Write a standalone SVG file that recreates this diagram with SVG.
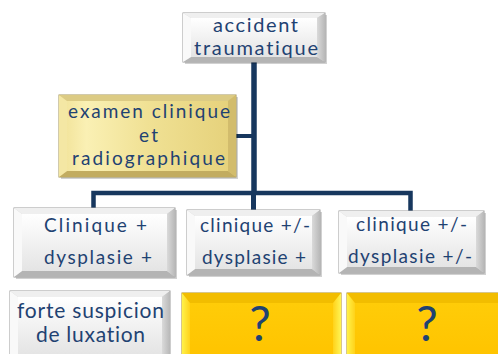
<svg xmlns="http://www.w3.org/2000/svg" width="498" height="354" viewBox="0 0 498 354">
<defs>
<linearGradient id="gW" x1="0" y1="0" x2="0" y2="1"><stop offset="0" stop-color="#FFFFFF"/><stop offset="1" stop-color="#E4E4E4"/></linearGradient>
<linearGradient id="gWr" x1="0" y1="0" x2="1" y2="0"><stop offset="0" stop-color="#DADADA"/><stop offset="1" stop-color="#B8B8B8"/></linearGradient>
<linearGradient id="gG" x1="0" y1="0" x2="1" y2="0"><stop offset="0" stop-color="#F3E59E"/><stop offset="0.12" stop-color="#FAF0B4"/><stop offset="0.5" stop-color="#F0E194"/><stop offset="1" stop-color="#E6D27C"/></linearGradient>
<linearGradient id="gY" x1="0" y1="0" x2="0" y2="1"><stop offset="0" stop-color="#FFCC08"/><stop offset="1" stop-color="#FFC400"/></linearGradient>
<linearGradient id="gYl" x1="0" y1="0" x2="1" y2="0"><stop offset="0" stop-color="#FFF24A"/><stop offset="1" stop-color="#FFD21A"/></linearGradient>
<linearGradient id="gYr" x1="0" y1="0" x2="1" y2="0"><stop offset="0" stop-color="#FFD21A"/><stop offset="1" stop-color="#FFF555"/></linearGradient>
</defs>
<style>
.sh{fill:#000;opacity:0.18}
.w .o{fill:#D0D0D0;stroke:#9C9C9C;stroke-width:1}
.w .t{fill:#EFEFEF}.w .l{fill:#F9F9F9}.w .r{fill:url(#gWr)}.w .b{fill:#B4B4B4}.w .i{fill:url(#gW)}
.g .o{fill:#D8C57A;stroke:#A3955B;stroke-width:1}
.g .t{fill:#DCCB84}.g .l{fill:#F4E7A4}.g .r{fill:#D2BC6C}.g .b{fill:#C2AC60}.g .i{fill:url(#gG)}
.y .o{fill:#F5C000;stroke:#B08E18;stroke-width:1}
.y .t{fill:#F2BD00}.y .l{fill:url(#gYl)}.y .r{fill:url(#gYr)}.y .b{fill:#E3AA00}.y .i{fill:url(#gY)}
text{font-family:Lato,"Open Sans","Liberation Sans",sans-serif;fill:#1F4272;text-anchor:middle;font-variant-ligatures:none}
.c{fill:none;stroke:#17375E;stroke-linecap:butt;stroke-linejoin:miter}
</style>

<g id="connectors">
<path class="c" d="M254,62 V193" stroke-width="5.5"/>
<path class="c" d="M236,136 H254" stroke-width="4"/>
<path class="c" d="M93.5,209 V193 H410.5 V211" stroke-width="4.5"/>
<path class="c" d="M253.5,193 V210" stroke-width="5"/>
</g>

<g id="n-accident" class="w">
<rect class="sh" x="185" y="15" width="142" height="49"/>
<rect class="o" x="183" y="13" width="142" height="49"/>
<polygon class="t" points="183,13 325,13 317,18 191,18"/>
<polygon class="b" points="183,62 325,62 317,57 191,57"/>
<polygon class="l" points="183,13 191,18 191,57 183,62"/>
<polygon class="r" points="325,13 317,18 317,57 325,62"/>
<rect class="i" x="191" y="18" width="126" height="39"/>
<text x="255.5" y="32" font-size="20" textLength="85" lengthAdjust="spacing">accident</text>
<text x="256" y="55" font-size="20" textLength="124" lengthAdjust="spacing">traumatique</text>
</g>

<g id="n-examen" class="g">
<rect class="sh" x="61" y="97" width="177" height="82"/>
<rect class="o" x="59" y="95" width="177" height="82"/>
<polygon class="t" points="59,95 236,95 228,101 67,101"/>
<polygon class="b" points="59,177 236,177 228,171 67,171"/>
<polygon class="l" points="59,95 67,101 67,171 59,177"/>
<polygon class="r" points="236,95 228,101 228,171 236,177"/>
<rect class="i" x="67" y="101" width="161" height="70"/>
<text x="149" y="118" font-size="19" textLength="162" lengthAdjust="spacing">examen clinique</text>
<text x="148.5" y="142" font-size="19" textLength="19" lengthAdjust="spacing">et</text>
<text x="148.5" y="165" font-size="19" textLength="153" lengthAdjust="spacing">radiographique</text>
</g>

<g id="n-c1" class="w">
<rect class="sh" x="16" y="210" width="161" height="69"/>
<rect class="o" x="14" y="208" width="161" height="69"/>
<polygon class="t" points="14,208 175,208 167,214 22,214"/>
<polygon class="b" points="14,277 175,277 167,271 22,271"/>
<polygon class="l" points="14,208 22,214 22,271 14,277"/>
<polygon class="r" points="175,208 167,214 167,271 175,277"/>
<rect class="i" x="22" y="214" width="145" height="57"/>
<text x="95.5" y="232" font-size="19" textLength="103" lengthAdjust="spacing">Clinique  +</text>
<text x="98" y="264" font-size="19" textLength="108" lengthAdjust="spacing">dysplasie +</text>
</g>

<g id="n-c2" class="w">
<rect class="sh" x="189" y="212" width="133" height="65"/>
<rect class="o" x="187" y="210" width="133" height="65"/>
<polygon class="t" points="187,210 320,210 312,216 195,216"/>
<polygon class="b" points="187,275 320,275 312,269 195,269"/>
<polygon class="l" points="187,210 195,216 195,269 187,275"/>
<polygon class="r" points="320,210 312,216 312,269 320,275"/>
<rect class="i" x="195" y="216" width="117" height="53"/>
<text x="255" y="232" font-size="19" textLength="110" lengthAdjust="spacing">clinique +/-</text>
<text x="254" y="264" font-size="19" textLength="104" lengthAdjust="spacing">dysplasie +</text>
</g>

<g id="n-c3" class="w">
<rect class="sh" x="341" y="213" width="145" height="62"/>
<rect class="o" x="339" y="211" width="145" height="62"/>
<polygon class="t" points="339,211 484,211 476,217 347,217"/>
<polygon class="b" points="339,273 484,273 476,267 347,267"/>
<polygon class="l" points="339,211 347,217 347,267 339,273"/>
<polygon class="r" points="484,211 476,217 476,267 484,273"/>
<rect class="i" x="347" y="217" width="129" height="50"/>
<text x="411.5" y="231" font-size="19" textLength="111" lengthAdjust="spacing">clinique +/-</text>
<text x="410" y="263" font-size="19" textLength="124" lengthAdjust="spacing">dysplasie +/-</text>
</g>

<g id="n-d1" class="w">
<rect class="o" x="10" y="291" width="160" height="70"/>
<polygon class="t" points="10,291 170,291 162,297 18,297"/>
<polygon class="b" points="10,361 170,361 162,355 18,355"/>
<polygon class="l" points="10,291 18,297 18,355 10,361"/>
<polygon class="r" points="170,291 162,297 162,355 170,361"/>
<rect class="i" x="18" y="297" width="144" height="58"/>
<text x="90.5" y="318" font-size="21" textLength="147" lengthAdjust="spacing">forte suspicion</text>
<text x="90.5" y="342" font-size="21" textLength="109" lengthAdjust="spacing">de luxation</text>
</g>

<g id="n-d2" class="y">
<rect class="o" x="182" y="293" width="159" height="70"/>
<polygon class="t" points="182,293 341,293 333,303 190,303"/>
<polygon class="b" points="182,363 341,363 333,355 190,355"/>
<polygon class="l" points="182,293 190,303 190,355 182,363"/>
<polygon class="r" points="341,293 333,303 333,355 341,363"/>
<rect class="i" x="190" y="303" width="143" height="52"/>
<text x="260" y="341" font-size="48">?</text>
</g>

<g id="n-d3" class="y">
<rect class="o" x="347" y="293" width="159" height="70"/>
<polygon class="t" points="347,293 506,293 498,303 355,303"/>
<polygon class="b" points="347,363 506,363 498,355 355,355"/>
<polygon class="l" points="347,293 355,303 355,355 347,363"/>
<polygon class="r" points="506,293 498,303 498,355 506,363"/>
<rect class="i" x="355" y="303" width="143" height="52"/>
<text x="427" y="341" font-size="48">?</text>
</g>
</svg>
